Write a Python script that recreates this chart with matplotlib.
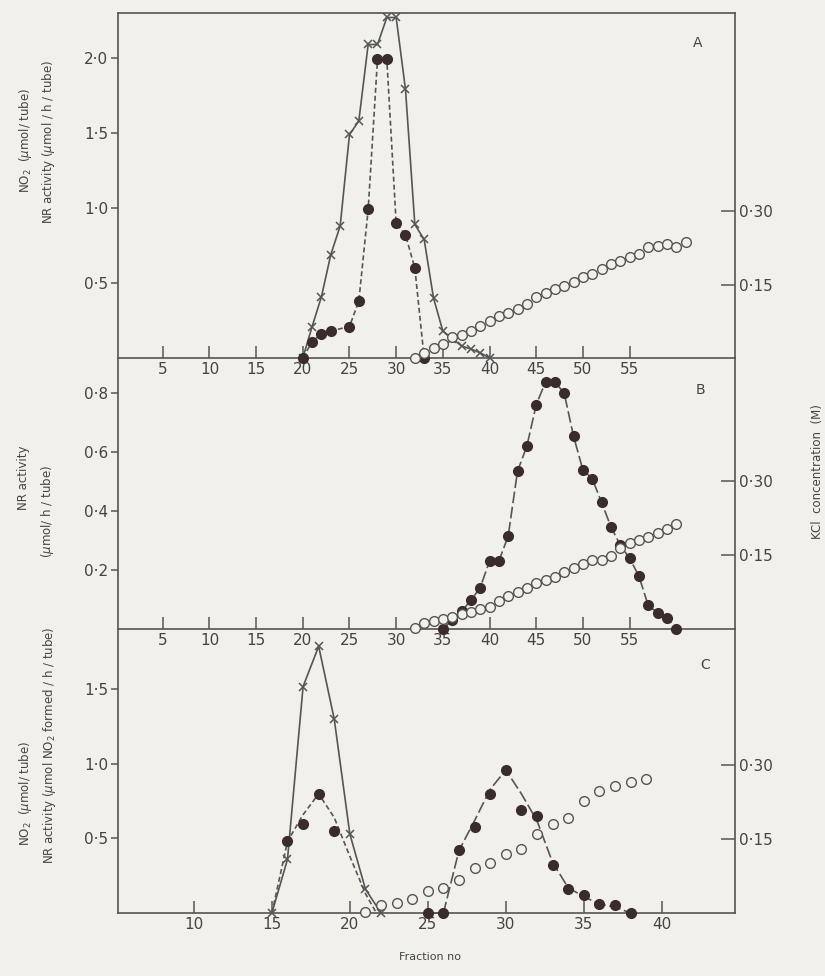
import matplotlib.pyplot as plt

# ---------------- panel A ----------------
a_x_frac = [20, 21, 22, 23, 24, 25, 26, 27, 28, 29, 30, 31, 32, 33, 34, 35, 36, 37, 38, 39, 40]
a_x_no2 = [0.0, 0.21, 0.41, 0.69, 0.88, 1.49, 1.58, 2.09, 2.09, 2.27, 2.27, 1.79, 0.89, 0.79,
           0.40, 0.18, 0.13, 0.08, 0.06, 0.035, 0.0]
a_dot_frac = [20, 21, 22, 23, 25, 26, 27, 28, 29, 30, 31, 32, 33]
a_dot_nr = [0.0, 0.11, 0.16, 0.18, 0.21, 0.38, 0.99, 1.99, 1.99, 0.90, 0.82, 0.60, 0.0]
a_kcl_frac = list(range(32, 62))
a_kcl = [0.0, 0.011, 0.021, 0.029, 0.042, 0.048, 0.055, 0.066, 0.076, 0.086,
         0.093, 0.100, 0.110, 0.124, 0.134, 0.142, 0.148, 0.155, 0.165, 0.172,
         0.183, 0.193, 0.199, 0.207, 0.213, 0.227, 0.230, 0.233, 0.227, 0.237]

# ---------------- panel B ----------------
b_dot_frac = list(range(35, 61))
b_dot_nr = [0.0, 0.03, 0.06, 0.097, 0.14, 0.23, 0.23, 0.315, 0.535, 0.62, 0.76, 0.838, 0.838,
            0.80, 0.654, 0.54, 0.51, 0.43, 0.347, 0.285, 0.24, 0.18, 0.08, 0.055, 0.038, 0.0]
b_kcl_frac = list(range(32, 61))
b_kcl = [0.003, 0.013, 0.016, 0.02, 0.024, 0.03, 0.035, 0.04, 0.045, 0.057,
         0.067, 0.075, 0.084, 0.094, 0.10, 0.105, 0.116, 0.124, 0.131, 0.141,
         0.141, 0.148, 0.165, 0.175, 0.18, 0.187, 0.194, 0.202, 0.213]

# ---------------- panel C ----------------
c_x_frac = [15, 16, 17, 18, 19, 20, 21, 22]
c_x_no2 = [0.0, 0.36, 1.52, 1.79, 1.30, 0.53, 0.16, 0.0]
c_dot1_frac = [16, 17, 18, 19]
c_dot1_nr = [0.48, 0.595, 0.80, 0.55]
c_fit1_frac = [15, 16, 17, 18, 19, 20, 21, 21.7]
c_fit1_nr = [0.0, 0.48, 0.66, 0.80, 0.64, 0.38, 0.13, 0.0]
c_dot2_frac = [25, 26, 27, 28, 29, 30, 31, 32, 33, 34, 35, 36, 37, 38]
c_dot2_nr = [0.0, 0.0, 0.42, 0.58, 0.80, 0.96, 0.69, 0.65, 0.32, 0.16, 0.12, 0.06, 0.055, 0.0]
c_fit2_frac = [25, 26, 27, 28, 29, 30, 31, 32, 33, 34, 35, 36, 37, 38]
c_fit2_nr = [0.0, 0.0, 0.42, 0.62, 0.83, 0.96, 0.80, 0.62, 0.34, 0.17, 0.11, 0.06, 0.04, 0.0]
c_kcl_frac = list(range(21, 40))
c_kcl = [0.003, 0.016, 0.021, 0.029, 0.045, 0.051, 0.066, 0.092, 0.102, 0.119,
         0.129, 0.161, 0.18, 0.193, 0.228, 0.247, 0.258, 0.266, 0.272]

paper = "#f1f0ea"
ink = "#555555"
dot = "#3a2c2c"

plt.rcParams["font.family"] = "DejaVu Sans"

W, H = 825, 976
fig = plt.figure(figsize=(W / 100, H / 100), dpi=100)
fig.patch.set_facecolor(paper)


def px_axes(top, bottom):
    return fig.add_axes([118 / W, 1 - bottom / H, (735 - 118) / W, (bottom - top) / H])


def style(ax, ax2, show_top):
    ax.patch.set_visible(False)
    for s in ["left", "bottom", "top"]:
        ax.spines[s].set_color(ink)
        ax.spines[s].set_linewidth(1.2)
    ax.spines["right"].set_visible(False)
    ax.spines["top"].set_visible(show_top)
    for s in ["left", "bottom", "top"]:
        ax2.spines[s].set_visible(False)
    ax2.spines["right"].set_color(ink)
    ax2.spines["right"].set_linewidth(1.2)
    ax.tick_params(axis="y", direction="out", length=5, width=1.1, color=ink,
                   labelcolor="#444444", labelsize=11, pad=2)
    ax.tick_params(axis="x", direction="in", length=9, width=1.1, color=ink,
                   labelcolor="#444444", labelsize=11, pad=3)
    ax2.tick_params(axis="y", direction="in", length=10, width=1.1, color=ink,
                    labelcolor="#444444", labelsize=11, pad=3)


ab_ticks = [5, 10, 15, 20, 25, 30, 35, 40, 45, 50, 55]
ab_labels = [str(t) for t in ab_ticks]
kcl_ticks = [0.15, 0.30]
kcl_labels = ["0\u00b715", "0\u00b730"]

solid_kw = dict(color=ink, lw=1.2, clip_on=False)
xm_kw = dict(marker="x", ms=6, mew=1.1, mec=ink, ls="none", clip_on=False, zorder=4)
dot_kw = dict(marker="o", ms=7, mfc=dot, mec=dot, ls="none", clip_on=False, zorder=4)
open_kw = dict(marker="o", ms=7, mfc=paper, mec=ink, mew=1.0, ls="none", clip_on=False, zorder=3)

# ---- A ----
axA = px_axes(13, 358)
axA2 = axA.twinx()
style(axA, axA2, True)
axA.plot(a_x_frac, a_x_no2, **solid_kw)
axA.plot(a_dot_frac, a_dot_nr, color=ink, lw=1.2, ls=(0, (3, 1.8)), clip_on=False)
axA.plot(a_x_frac, a_x_no2, **xm_kw)
axA.plot(a_dot_frac, a_dot_nr, **dot_kw)
axA2.plot(a_kcl_frac, a_kcl, **open_kw)
axA.set_xlim(0.2, 66.3)
axA.set_ylim(0, 2.3)
axA2.set_ylim(0, 0.706)
axA.set_xticks(ab_ticks, ab_labels)
axA.set_yticks([0.5, 1.0, 1.5, 2.0], ["0\u00b75", "1\u00b70", "1\u00b75", "2\u00b70"])
axA2.set_yticks(kcl_ticks, kcl_labels)

# ---- B ----
axB = px_axes(358, 629)
axB2 = axB.twinx()
style(axB, axB2, False)
axB.plot(b_dot_frac, b_dot_nr, color=ink, lw=1.2, ls=(0, (7, 2.2)), clip_on=False)
axB.plot(b_dot_frac, b_dot_nr, **dot_kw)
axB2.plot(b_kcl_frac, b_kcl, **open_kw)
axB.set_xlim(0.2, 66.3)
axB.set_ylim(0, 0.919)
axB2.set_ylim(0, 0.55)
axB.set_xticks(ab_ticks, ab_labels)
axB.set_yticks([0.2, 0.4, 0.6, 0.8], ["0\u00b72", "0\u00b74", "0\u00b76", "0\u00b78"])
axB2.set_yticks(kcl_ticks, kcl_labels)

# ---- C ----
axC = px_axes(629, 913)
axC2 = axC.twinx()
style(axC, axC2, False)
axC.plot(c_x_frac, c_x_no2, **solid_kw)
axC.plot(c_fit1_frac, c_fit1_nr, color=ink, lw=1.2, ls=(0, (3, 1.8)), clip_on=False)
axC.plot(c_fit2_frac, c_fit2_nr, color=ink, lw=1.2, ls=(0, (7, 2.2)), clip_on=False)
axC.plot(c_x_frac, c_x_no2, **xm_kw)
axC.plot(c_dot1_frac, c_dot1_nr, **dot_kw)
axC.plot(c_dot2_frac, c_dot2_nr, **dot_kw)
axC2.plot(c_kcl_frac, c_kcl, **open_kw)
axC.set_xlim(5.13, 44.7)
axC.set_ylim(0, 1.906)
axC2.set_ylim(0, 0.576)
axC.set_xticks([10, 15, 20, 25, 30, 35, 40], ["10", "15", "20", "25", "30", "35", "40"])
axC.set_yticks([0.5, 1.0, 1.5], ["0\u00b75", "1\u00b70", "1\u00b75"])
axC2.set_yticks(kcl_ticks, kcl_labels)


def ftext(x, y, s, **kw):
    fig.text(x / W, 1 - y / H, s, color="#444444", ha="center", va="center", **kw)


# panel letters
ftext(698, 43, "A", fontsize=10)
ftext(700, 390, "B", fontsize=10)
ftext(705, 665, "C", fontsize=10)

# left axis titles
ftext(26, 140, r"NO$_2$  ($\mu$mol/ tube)", rotation=90, fontsize=8.5)
ftext(49, 142, r"NR activity ($\mu$mol / h / tube)", rotation=90, fontsize=8.5)
ftext(24, 478, "NR activity", rotation=90, fontsize=8.5)
ftext(48, 512, r"($\mu$mol/ h / tube)", rotation=90, fontsize=8.5)
ftext(26, 793, r"NO$_2$  ($\mu$mol/ tube)", rotation=90, fontsize=8.5)
ftext(50, 745, r"NR activity ($\mu$mol NO$_2$ formed / h / tube)", rotation=90, fontsize=8.5)

# right axis title and x label
ftext(817, 472, "KCl  concentration  (M)", rotation=90, fontsize=8.5)
ftext(430, 957, "Fraction no", fontsize=8)

fig.savefig("out.png", dpi=100, facecolor=paper)
